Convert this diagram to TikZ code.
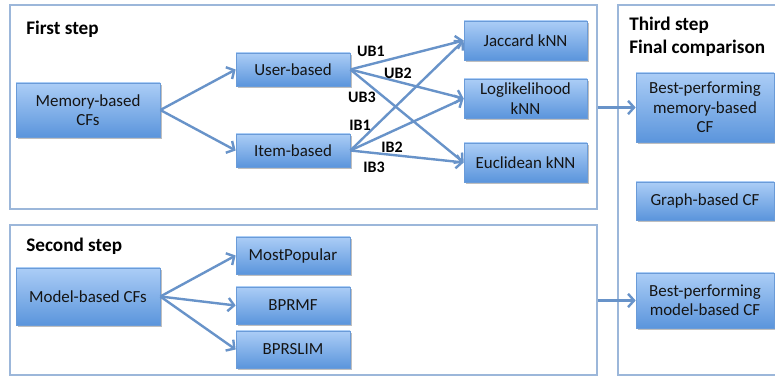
\documentclass[tikz,border=0pt]{standalone}
\usepackage{fontspec}
\setmainfont{Carlito}
\usetikzlibrary{arrows.meta,shadows}
\definecolor{boxtop}{HTML}{ABCDF6}
\definecolor{boxbot}{HTML}{5B95DC}
\definecolor{boxline}{HTML}{6A9BD8}
\definecolor{arrcol}{HTML}{6893C9}
\definecolor{framecol}{HTML}{9CB7DA}
\definecolor{txt}{HTML}{141414}
\tikzset{
  cfbox/.style={rectangle, draw=boxline, line width=0.5pt, top color=boxtop, bottom color=boxbot,
    drop shadow={shadow xshift=1.2pt, shadow yshift=-1.2pt, fill=black, opacity=0.25},
    align=center, text=txt, font=\fontsize{12.7}{14.5}\selectfont, inner sep=1pt},
  frame/.style={rectangle, draw=framecol, line width=0.9pt, fill=none},
  arr/.style={draw=arrcol, line width=1.8pt, -{Straight Barb[length=4.5pt,width=10pt]}},
  steptitle/.style={anchor=west, align=left, text=black, font=\fontsize{14.4}{17}\selectfont\bfseries, inner sep=0pt},
  elabel/.style={text=black, font=\fontsize{12}{14}\selectfont\bfseries, inner sep=0pt},
}
\begin{document}
\begin{tikzpicture}[x=0.75pt, y=-0.75pt]
\useasboundingbox (0,0) rectangle (775,377);
\clip (0,0) rectangle (775,377);
\fill[white] (0,0) rectangle (775,377);
% frames
\node[frame, minimum width=440.25pt, minimum height=153pt] (f1) at (303.5,107) {};
\node[frame, minimum width=440.25pt, minimum height=112.5pt] (f2) at (303.5,300) {};
\node[frame, minimum width=136.5pt, minimum height=277.5pt] (f3) at (709,190) {};
% titles
\node[steptitle] (t1) at (26,29) {First step};
\node[steptitle] (t2) at (26,246) {Second step};
\node[steptitle] (t3) at (629,36.5) {Third step\\Final comparison};
% first step boxes
\node[cfbox, minimum width=108pt, minimum height=40.5pt] (mem) at (88,110) {Memory-based\\CFs};
\node[cfbox, minimum width=85.5pt, minimum height=24.75pt] (user) at (293,69.5) {User-based};
\node[cfbox, minimum width=85.5pt, minimum height=24.75pt] (item) at (293,150.5) {Item-based};
\node[cfbox, minimum width=92.25pt, minimum height=29.25pt] (jac) at (525.5,40.5) {Jaccard kNN};
\node[cfbox, minimum width=92.25pt, minimum height=29.25pt] (log) at (525.5,98.5) {Loglikelihood\\kNN};
\node[cfbox, minimum width=92.25pt, minimum height=29.25pt] (euc) at (525.5,162.5) {Euclidean kNN};
% third step boxes
\node[cfbox, minimum width=103.5pt, minimum height=51.75pt] (bm) at (705,107.5) {Best-performing\\memory-based\\CF};
\node[cfbox, minimum width=103.5pt, minimum height=28.5pt] (gb) at (705,201) {Graph-based CF};
\node[cfbox, minimum width=103.5pt, minimum height=41.25pt] (bmod) at (705,300.5) {Best-performing\\model-based CF};
% second step boxes
\node[cfbox, minimum width=108pt, minimum height=42.75pt] (model) at (88,296.5) {Model-based CFs};
\node[cfbox, minimum width=85.5pt, minimum height=27.75pt] (mp) at (293,255.5) {MostPopular};
\node[cfbox, minimum width=85.5pt, minimum height=27.75pt] (bprmf) at (293,305.5) {BPRMF};
\node[cfbox, minimum width=85.5pt, minimum height=27.75pt] (bprslim) at (293,349.5) {BPRSLIM};
% arrows
\draw[arr] (mem.east) -- (user.west);
\draw[arr] (mem.east) -- (item.west);
\draw[arr] (user.east) -- (jac.west);
\draw[arr] (user.east) -- (log.west);
\draw[arr] (user.east) -- (euc.west);
\draw[arr] (item.east) -- (jac.west);
\draw[arr] (item.east) -- (log.west);
\draw[arr] (item.east) -- (euc.west);
\draw[arr] (model.east) -- (mp.west);
\draw[arr] (model.east) -- (bprmf.west);
\draw[arr] (model.east) -- (bprslim.west);
\draw[arr] (f1.east |- bm.west) -- (bm.west);
\draw[arr] (f2.east |- bmod.west) -- (bmod.west);
% edge labels
\node[elabel] (ub1) at (371,51) {UB1};
\node[elabel] (ub2) at (398,73) {UB2};
\node[elabel] (ub3) at (362,97) {UB3};
\node[elabel] (ib1) at (360,125) {IB1};
\node[elabel] (ib2) at (392,147) {IB2};
\node[elabel] (ib3) at (374,167) {IB3};
\end{tikzpicture}
\end{document}
